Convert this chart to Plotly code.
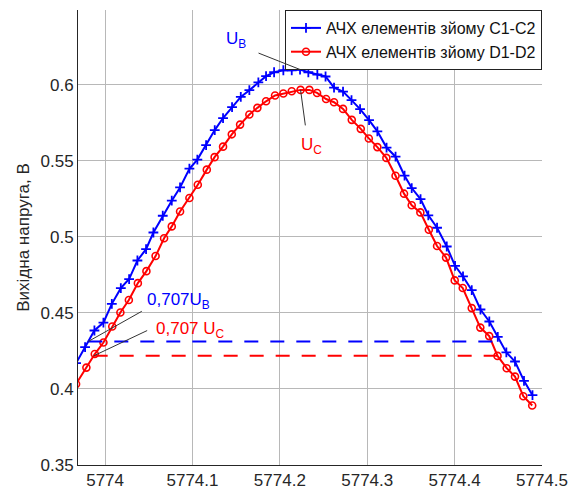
import numpy as np
import plotly.graph_objects as go

# ---------------- data ----------------
blue_x = [5773.9668, 5773.9771, 5773.9878, 5773.9981, 5774.0077, 5774.0180, 5774.0275, 5774.0370,
          5774.0469, 5774.0553, 5774.0660, 5774.0763, 5774.0858, 5774.0965, 5774.1056, 5774.1156,
          5774.1255, 5774.1350, 5774.1453, 5774.1553, 5774.1651, 5774.1754, 5774.1842, 5774.1934,
          5774.2040, 5774.2136, 5774.2231, 5774.2326, 5774.2429, 5774.2523, 5774.2620, 5774.2723,
          5774.2820, 5774.2918, 5774.3021, 5774.3116, 5774.3221, 5774.3324, 5774.3427, 5774.3509,
          5774.3610, 5774.3699, 5774.3799, 5774.3910, 5774.4005, 5774.4096, 5774.4196, 5774.4296,
          5774.4397, 5774.4494, 5774.4592, 5774.4691, 5774.4794, 5774.4891]
blue_y = [0.4169, 0.4274, 0.4384, 0.4436, 0.4559, 0.4662, 0.4722, 0.4844, 0.4918, 0.5028,
          0.5138, 0.5237, 0.5324, 0.5447, 0.5507, 0.5602, 0.5701, 0.5780, 0.5852, 0.5919,
          0.5963, 0.6015, 0.6055, 0.6081, 0.6094, 0.6094, 0.6099, 0.6081, 0.6066, 0.6053,
          0.5980, 0.5954, 0.5898, 0.5839, 0.5766, 0.5693, 0.5586, 0.5526, 0.5401, 0.5320,
          0.5247, 0.5141, 0.5059, 0.4936, 0.4809, 0.4739, 0.4649, 0.4522, 0.4443, 0.4342,
          0.4240, 0.4180, 0.4053, 0.3959]

red_x = [5773.9668, 5773.9786, 5773.9882, 5773.9981, 5774.0082, 5774.0175, 5774.0272, 5774.0375,
         5774.0473, 5774.0578, 5774.0675, 5774.0763, 5774.0858, 5774.0965, 5774.1061, 5774.1164,
         5774.1253, 5774.1350, 5774.1450, 5774.1545, 5774.1651, 5774.1743, 5774.1842, 5774.1945,
         5774.2040, 5774.2136, 5774.2237, 5774.2338, 5774.2426, 5774.2529, 5774.2620, 5774.2723,
         5774.2823, 5774.2926, 5774.3018, 5774.3116, 5774.3219, 5774.3324, 5774.3421, 5774.3509,
         5774.3608, 5774.3705, 5774.3799, 5774.3902, 5774.4001, 5774.4093, 5774.4196, 5774.4294,
         5774.4396, 5774.4491, 5774.4596, 5774.4691, 5774.4786, 5774.4888]
red_y = [0.4032, 0.4140, 0.4229, 0.4305, 0.4410, 0.4502, 0.4584, 0.4695, 0.4774, 0.4873,
         0.4990, 0.5068, 0.5166, 0.5255, 0.5342, 0.5441, 0.5523, 0.5592, 0.5673, 0.5737,
         0.5803, 0.5847, 0.5890, 0.5928, 0.5941, 0.5956, 0.5965, 0.5965, 0.5945, 0.5905,
         0.5884, 0.5840, 0.5768, 0.5709, 0.5646, 0.5589, 0.5518, 0.5401, 0.5283, 0.5207,
         0.5160, 0.5046, 0.4939, 0.4863, 0.4713, 0.4663, 0.4531, 0.4403, 0.4347, 0.4217,
         0.4136, 0.4081, 0.3952, 0.3891]

series_names = ["АЧХ елементів зйому С1-С2", "АЧХ елементів зйому D1-D2"]
level_factor = 0.707

x_tick_vals = [5774.0, 5774.1, 5774.2, 5774.3, 5774.4, 5774.5]
x_tick_text = ["5774", "5774.1", "5774.2", "5774.3", "5774.4", "5774.5"]
y_tick_vals = [0.35, 0.40, 0.45, 0.50, 0.55, 0.60]
y_tick_text = ["0.35", "0.4", "0.45", "0.5", "0.55", "0.6"]
y_title = "Вихідна напруга, В"

assert len(blue_x) == len(blue_y) and len(red_x) == len(red_y)

BLUE = "#0000ff"
RED = "#ff0000"
FONT = "Liberation Sans, Arial, sans-serif"

# page body has an 8px default margin: compensate so the plot lands where intended
OFF = 8
WIN_W, WIN_H = 582, 490
W, H = WIN_W - OFF, WIN_H - OFF
PLOT_L, PLOT_R, PLOT_T, PLOT_B = 78, 542, 10, 465   # plot area in window pixels
ML, MR, MT, MB = PLOT_L - OFF, WIN_W - PLOT_R, PLOT_T - OFF, WIN_H - PLOT_B


def crossings(xs, ys, level):
    xs = np.asarray(xs)
    ys = np.asarray(ys)
    left = right = None
    for i in range(len(ys) - 1):
        if (ys[i] - level) * (ys[i + 1] - level) <= 0:
            t = (level - ys[i]) / (ys[i + 1] - ys[i])
            left = xs[i] + t * (xs[i + 1] - xs[i])
            break
    for i in range(len(ys) - 2, -1, -1):
        if (ys[i] - level) * (ys[i + 1] - level) <= 0:
            t = (level - ys[i]) / (ys[i + 1] - ys[i])
            right = xs[i] + t * (xs[i + 1] - xs[i])
            break
    return left, right


fig = go.Figure()

fig.add_trace(go.Scatter(
    x=blue_x, y=blue_y, mode="lines+markers", name=series_names[0],
    line=dict(color=BLUE, width=2),
    marker=dict(symbol="cross-thin", size=7, line=dict(color=BLUE, width=1.8), color=BLUE),
))
fig.add_trace(go.Scatter(
    x=red_x, y=red_y, mode="lines+markers", name=series_names[1],
    line=dict(color=RED, width=2),
    marker=dict(symbol="circle-open", size=7, line=dict(color=RED, width=1.6), color=RED),
))

# 0.707 level dashed lines
levels = {}
for xs, ys, col in [(blue_x, blue_y, BLUE), (red_x, red_y, RED)]:
    lvl = level_factor * max(ys)
    xl, xr = crossings(xs, ys, lvl)
    levels[col] = (xl, xr, lvl)
    fig.add_trace(go.Scatter(
        x=[xl, xr], y=[lvl, lvl], mode="lines", showlegend=False, hoverinfo="skip",
        line=dict(color=col, width=2, dash="14px,12px"),
    ))

# pointer lines (annotation arrows without heads)
ib = int(np.argmax(blue_y))
ir = int(np.argmax(red_y))
pointers = [
    (blue_x[ib], blue_y[ib], -43, -17),
    (red_x[ir], red_y[ir], 5, 37),
    (levels[BLUE][0], levels[BLUE][2], 55, -31),
    (levels[RED][0], levels[RED][2], 55, -26),
]
for x, y, ax, ay in pointers:
    fig.add_annotation(x=x, y=y, xref="x", yref="y", text="", showarrow=True,
                       arrowhead=0, arrowwidth=1, arrowcolor="#333333",
                       ax=ax, ay=ay, standoff=0, startstandoff=0)


def paper(px, py):
    return (px - PLOT_L) / (PLOT_R - PLOT_L), (PLOT_B - py) / (PLOT_B - PLOT_T)


labels = [
    ("U<sub>B</sub>", BLUE, 224, 40),
    ("U<sub>C</sub>", RED, 299, 146),
    ("0,707U<sub>B</sub>", BLUE, 145, 301),
    ("0,707 U<sub>C</sub>", RED, 154, 330),
]
for txt, col, px, py in labels:
    xp, yp = paper(px, py)
    fig.add_annotation(x=xp, y=yp, xref="paper", yref="paper", text=txt, showarrow=False,
                       xanchor="left", yanchor="middle",
                       font=dict(family=FONT, size=17, color=col))

fig.update_layout(
    width=W, height=H,
    margin=dict(l=ML, r=MR, t=MT, b=MB, pad=0, autoexpand=False),
    paper_bgcolor="white", plot_bgcolor="white",
    font=dict(family=FONT, size=16, color="#262626"),
    showlegend=True,
    legend=dict(x=1, y=1, xanchor="right", yanchor="top",
                bgcolor="white", bordercolor="#222222", borderwidth=1,
                font=dict(family=FONT, size=16, color="#111111"),
                tracegroupgap=0, itemwidth=30),
    xaxis=dict(range=[5773.969, 5774.5], tickvals=x_tick_vals, ticktext=x_tick_text,
               showgrid=True, gridcolor="#b8b8b8", gridwidth=1, zeroline=False,
               showline=True, linecolor="#262626", linewidth=1, ticks="",
               automargin=False,
               tickfont=dict(family=FONT, size=17, color="#262626")),
    yaxis=dict(range=[0.35, 0.649], tickvals=y_tick_vals, ticktext=y_tick_text,
               showgrid=True, gridcolor="#b8b8b8", gridwidth=1, zeroline=False,
               showline=True, linecolor="#262626", linewidth=1, ticks="",
               automargin=False,
               tickfont=dict(family=FONT, size=17, color="#262626"),
               title=dict(text=y_title, font=dict(family=FONT, size=17, color="#262626"),
                          standoff=6)),
)

fig.write_html("out.html")
